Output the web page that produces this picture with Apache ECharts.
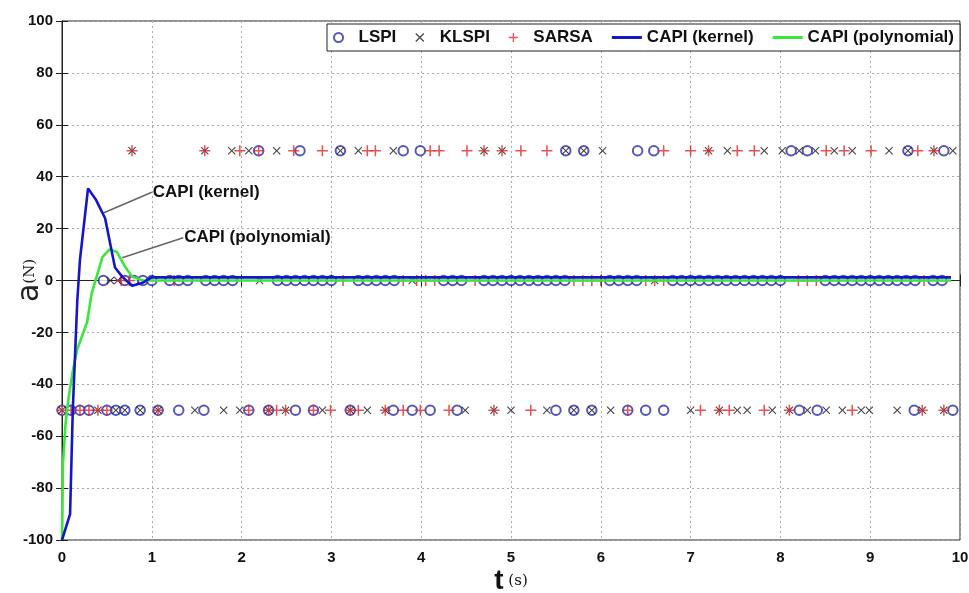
<!DOCTYPE html>
<html><head><meta charset="utf-8">
<script src="https://cdn.jsdelivr.net/npm/echarts@6/dist/echarts.min.js"></script>
<style>html,body{margin:0;padding:0;background:#fff}#c{width:969px;height:593px}</style>
</head><body><div id="c"></div>
<script>
// ---- data ----
const levels = { top: 50, mid: 0, bot: -50 };
const lspiTop = [2.19, 2.65, 3.10, 3.80, 3.99, 5.61, 5.81, 6.41, 6.59, 8.12, 8.30, 9.42, 9.82];
const lspiMid = [0.46, 0.7, 0.8, 0.9, 1.0, 1.2, 1.3, 1.4, 1.6, 1.7, 1.8, 1.9, 2.4, 2.5, 2.6, 2.7, 2.8, 2.9, 3.0, 3.3, 3.4, 3.5, 3.6, 3.7, 4.25, 4.35, 4.45, 4.7, 4.8, 4.9, 5.0, 5.1, 5.2, 5.3, 5.4, 5.5, 5.6, 6.1, 6.2, 6.3, 6.4, 6.8, 6.9, 7.0, 7.1, 7.2, 7.3, 7.4, 7.5, 7.6, 7.7, 7.8, 7.9, 8.0, 8.5, 8.6, 8.7, 8.8, 8.9, 9.0, 9.1, 9.2, 9.3, 9.4, 9.5, 9.7, 9.8];
const lspiBot = [0, 0.1, 0.2, 0.3, 0.5, 0.6, 0.7, 0.87, 1.07, 1.30, 1.58, 2.08, 2.30, 2.60, 2.80, 3.21, 3.69, 3.90, 4.10, 4.40, 5.50, 5.70, 5.90, 6.30, 6.50, 6.70, 8.21, 8.41, 9.49, 9.92];
const klspiTop = [0.78, 1.59, 1.89, 2.08, 2.39, 3.10, 3.30, 3.69, 4.70, 4.90, 5.61, 5.81, 6.02, 7.20, 7.41, 7.82, 8.02, 8.21, 8.39, 8.60, 8.80, 9.21, 9.42, 9.71, 9.92];
const klspiMid = [0.54, 0.62, 2.2, 3.9, 6.6];
const klspiBot = [0, 0.4, 0.6, 0.7, 0.87, 1.07, 1.48, 1.80, 1.98, 2.30, 2.49, 2.90, 3.21, 3.40, 3.60, 4.49, 4.81, 5.00, 5.40, 5.70, 5.90, 6.11, 7.00, 7.32, 7.52, 7.63, 7.91, 8.10, 8.30, 8.51, 8.69, 8.90, 8.99, 9.30, 9.58, 9.82];
const sarsaTop = [0.78, 1.59, 1.98, 2.19, 2.58, 2.90, 3.40, 3.49, 4.10, 4.20, 4.51, 4.70, 4.90, 5.11, 5.40, 6.70, 7.00, 7.20, 7.52, 7.71, 8.51, 8.71, 9.01, 9.53, 9.71];
const sarsaMid = [0.66, 0.75, 1.25, 3.13, 3.8, 3.95, 4.05, 4.15, 4.6, 5.7, 5.8, 5.9, 6.0, 6.5, 6.6, 6.7, 8.2, 8.3, 8.4, 9.6];
const sarsaBot = [0, 0.1, 0.2, 0.3, 0.4, 0.5, 1.07, 2.08, 2.30, 2.39, 2.49, 2.80, 2.99, 3.21, 3.30, 3.60, 3.80, 3.99, 4.31, 4.81, 5.22, 6.30, 7.11, 7.32, 7.43, 7.82, 8.10, 8.80, 9.58, 9.82];
const kernelT = [0, 0.09, 0.12, 0.17, 0.2, 0.29, 0.38, 0.48, 0.59, 0.67, 0.78, 0.89, 1.0, 9.9];
const kernelA = [-100, -90, -50, -8, 8, 35.5, 31, 24, 5, 1.5, -2, -1, 1.2, 1.2];
const polyT = [0, 0.005, 0.01, 0.04, 0.07, 0.12, 0.17, 0.28, 0.33, 0.39, 0.45, 0.53, 0.61, 0.7, 0.78, 0.9, 9.9];
const polyA = [-100, -89, -71, -55, -46, -35, -26.5, -16, -5, 2, 9, 12, 11, 5.4, 1.5, 0, 0];
const xTicks = [0, 1, 2, 3, 4, 5, 6, 7, 8, 9, 10];
const yTicks = [-100, -80, -60, -40, -20, 0, 20, 40, 60, 80, 100];
const kernelNote = { text: 'CAPI (kernel)', from: [0.46, 26], to: [1.0, 34] };
const polyNote = { text: 'CAPI (polynomial)', from: [0.67, 8.8], to: [1.35, 16.5] };

// ---- build ----
function rows(top, mid, bot) {
  return [].concat(top.map(x => [x, levels.top]), mid.map(x => [x, levels.mid]), bot.map(x => [x, levels.bot]));
}
const plusPath = 'path://M4.3,0H5.7V4.3H10V5.7H5.7V10H4.3V5.7H0V4.3H4.3Z';
const crossPath = 'path://M1,0L5,4L9,0L10,1L6,5L10,9L9,10L5,6L1,10L0,9L4,5L0,1Z';
const linePath = 'path://M0,0H30V3H0Z';
const FONT = '"Liberation Sans", Arial, sans-serif';
const chart = echarts.init(document.getElementById('c'));
function note(n) {
  return {
    markLine: { silent: true, symbol: 'none', animation: false,
      lineStyle: { color: '#666', width: 1.5, type: 'solid' }, label: { show: false },
      data: [[{ coord: n.from }, { coord: n.to }]] },
    markPoint: { silent: true, symbol: 'circle', symbolSize: 0, animation: false,
      label: { show: true, position: 'right', distance: 1, formatter: n.text, color: '#111',
        fontFamily: FONT, fontWeight: 'bold', fontSize: 17 },
      data: [{ coord: n.to }] }
  };
}
const axisLabelStyle = { color: '#111', fontFamily: FONT, fontWeight: 'bold', fontSize: 15 };
chart.setOption({
  animation: false,
  backgroundColor: '#fff',
  grid: { left: 62, right: 9, top: 21, bottom: 53, show: true, borderColor: '#222', borderWidth: 1,
    containLabel: false, outerBoundsMode: 'none' },
  legend: {
    right: 9, top: 24, padding: [5, 6, 5, 6], borderColor: '#222', borderWidth: 1, backgroundColor: '#fff',
    itemGap: 19, itemWidth: 30, itemHeight: 9,
    textStyle: { color: '#111', fontFamily: FONT, fontWeight: 'bold', fontSize: 17 },
    data: [
      { name: 'LSPI' },
      { name: 'KLSPI' },
      { name: 'SARSA' },
      { name: 'CAPI (kernel)', icon: linePath, itemStyle: { color: '#1515cc' } },
      { name: 'CAPI (polynomial)', icon: linePath, itemStyle: { color: '#38e838' } }
    ]
  },
  xAxis: [{
    type: 'value', min: xTicks[0], max: xTicks[xTicks.length - 1], interval: 1,
    axisLine: { lineStyle: { color: '#222' } },
    axisTick: { inside: true, length: 6, lineStyle: { color: '#222' } },
    axisLabel: Object.assign({ margin: 10 }, axisLabelStyle),
    splitLine: { lineStyle: { color: '#aaa', type: [2, 3] } },
    name: '{t|t}{s| (s)}', nameLocation: 'middle', nameGap: 27, nameMoveOverlap: false,
    nameTextStyle: { rich: {
      t: { fontFamily: FONT, fontWeight: 'bold', fontSize: 28, color: '#111' },
      s: { fontFamily: '"DejaVu Serif", serif', fontSize: 15, color: '#111' } } }
  }, {
    type: 'value', position: 'top', min: 0, max: 10, interval: 1,
    axisLine: { lineStyle: { color: '#222' } }, axisTick: { inside: true, length: 6, lineStyle: { color: '#222' } },
    axisLabel: { show: false }, splitLine: { show: false }
  }],
  yAxis: [{
    type: 'value', min: yTicks[0], max: yTicks[yTicks.length - 1], interval: 20,
    axisLine: { show: true, lineStyle: { color: '#222' } },
    axisTick: { show: true, inside: true, length: 6, lineStyle: { color: '#222' } },
    axisLabel: Object.assign({ margin: 9 }, axisLabelStyle),
    splitLine: { lineStyle: { color: '#aaa', type: [2, 3] } },
    name: '{a|a}{n|(N)}', nameLocation: 'middle', nameGap: 32, nameRotate: 90, nameMoveOverlap: false,
    nameTextStyle: { verticalAlign: 'middle', rich: {
      a: { fontFamily: '"DejaVu Sans", sans-serif', fontSize: 30, color: '#222' },
      n: { fontFamily: '"DejaVu Serif", serif', fontSize: 15, color: '#222' } } }
  }, {
    type: 'value', position: 'right', min: -100, max: 100, interval: 20,
    axisLine: { show: true, lineStyle: { color: '#222' } },
    axisTick: { show: true, inside: true, length: 6, lineStyle: { color: '#222' } },
    axisLabel: { show: false }, splitLine: { show: false }
  }],
  series: [
    { name: 'LSPI', type: 'scatter', symbol: 'emptyCircle', symbolSize: 9.5,
      itemStyle: { color: '#2b2bb0', borderColor: '#2b2bb0', borderWidth: 1.4 },
      data: rows(lspiTop, lspiMid, lspiBot) },
    { name: 'KLSPI', type: 'scatter', symbol: crossPath, symbolSize: 8,
      itemStyle: { color: '#1a1a1a' }, data: rows(klspiTop, klspiMid, klspiBot) },
    { name: 'SARSA', type: 'scatter', symbol: plusPath, symbolSize: 11,
      itemStyle: { color: '#e02828' }, data: rows(sarsaTop, sarsaMid, sarsaBot) },
    Object.assign({ name: 'CAPI (kernel)', type: 'line', symbol: 'none', z: 5,
      lineStyle: { color: '#1515cc', width: 2.6 }, itemStyle: { color: '#1515cc' },
      data: kernelT.map((t, i) => [t, kernelA[i]]) }, note(kernelNote)),
    Object.assign({ name: 'CAPI (polynomial)', type: 'line', symbol: 'none', z: 4,
      lineStyle: { color: '#38e838', width: 2.6 }, itemStyle: { color: '#38e838' },
      data: polyT.map((t, i) => [t, polyA[i]]) }, note(polyNote))
  ]
});
</script></body></html>
